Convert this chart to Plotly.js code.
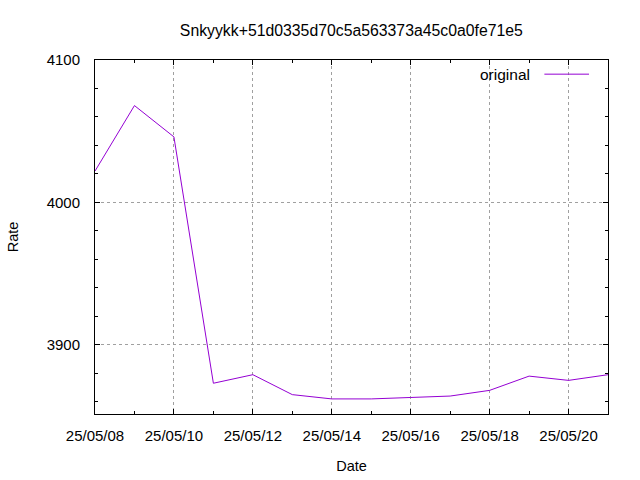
<!DOCTYPE html>
<html>
<head>
<meta charset="utf-8">
<script src="https://cdn.plot.ly/plotly-3.0.1.min.js"></script>
<style>html,body{margin:0;padding:0;background:#fff;}#chart{width:640px;height:480px;}</style>
</head>
<body>
<div id="chart"></div>
<script>
const dates = ['2025-05-08','2025-05-09','2025-05-10','2025-05-11','2025-05-12','2025-05-13','2025-05-14',
               '2025-05-15','2025-05-16','2025-05-17','2025-05-18','2025-05-19','2025-05-20','2025-05-21'];
const rates = [4022, 4068, 4046, 3873, 3879, 3865, 3862, 3862, 3863, 3864, 3868, 3878, 3875, 3879];
const seriesName = 'original';
const chartTitle = 'Snkyykk+51d0335d70c5a563373a45c0a0fe71e5';

const fam = 'Liberation Sans, Arial, sans-serif';
const tickFont = {family: fam, size: 15, color: '#000'};
const axTitleFont = {family: fam, size: 14.5, color: '#000'};
const lineColor = '#9400d3';

const trace = {
  x: dates, y: rates, type: 'scatter', mode: 'lines', name: seriesName,
  line: {color: lineColor, width: 1}, showlegend: false
};

const axisCommon = {
  showline: true, linecolor: '#000', linewidth: 1, mirror: 'ticks',
  ticks: 'inside', ticklen: 5, tickcolor: '#000', tickwidth: 1,
  showgrid: true, gridcolor: '#a0a0a0', griddash: 'dot', gridwidth: 1,
  zeroline: false, tickfont: tickFont
};

const layout = {
  width: 640, height: 480,
  margin: {l: 95, r: 32, t: 60, b: 66},
  paper_bgcolor: '#fff', plot_bgcolor: '#fff',
  font: tickFont,
  title: {text: chartTitle, font: {family: fam, size: 15.8, color: '#000'}, x: 0.549, xanchor: 'center', y: 0.937, yanchor: 'middle'},
  xaxis: Object.assign({}, axisCommon, {
    type: 'date', range: ['2025-05-08', '2025-05-21'],
    dtick: 172800000, tick0: '2025-05-08', tickformat: '%y/%m/%d',
    ticklabelstandoff: 8,
    minor: {ticks: 'inside', ticklen: 3, dtick: 86400000, tick0: '2025-05-08', tickcolor: '#000', showgrid: false},
    title: {text: 'Date', font: axTitleFont, standoff: 17}
  }),
  yaxis: Object.assign({}, axisCommon, {
    range: [3851.4, 4100], dtick: 100, tick0: 3900,
    ticklabelstandoff: 11,
    minor: {ticks: 'inside', ticklen: 3, dtick: 20, tick0: 3900, tickcolor: '#000', showgrid: false},
    title: {text: 'Rate', font: axTitleFont, standoff: 24}
  }),
  annotations: [{
    xref: 'paper', yref: 'paper', x: 0.852, y: 0.96, xanchor: 'right', yanchor: 'middle',
    text: seriesName, showarrow: false, font: {family: fam, size: 15.5, color: '#000'}
  }],
  shapes: [{
    type: 'line', xref: 'paper', yref: 'paper', x0: 0.876, x1: 0.963, y0: 0.96, y1: 0.96,
    line: {color: lineColor, width: 1}
  }]
};

Plotly.newPlot('chart', [trace], layout, {staticPlot: true});
</script>
</body>
</html>
